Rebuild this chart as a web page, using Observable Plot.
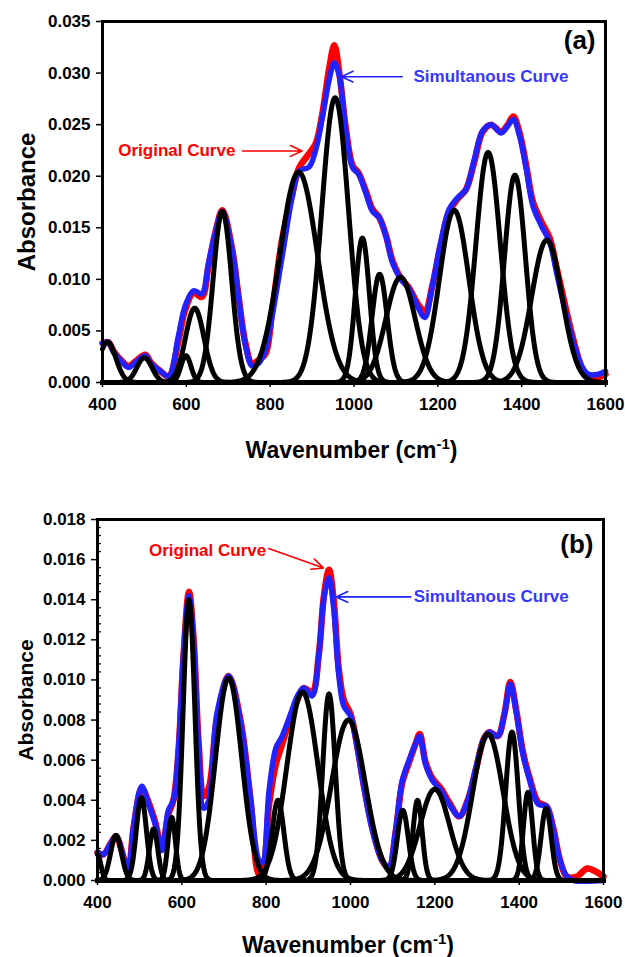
<!DOCTYPE html>
<html>
<head>
<meta charset="utf-8">
<script src="https://cdn.jsdelivr.net/npm/d3@7"></script>
<script src="https://cdn.jsdelivr.net/npm/@observablehq/plot@0.6"></script>
<style>
  html, body { margin: 0; padding: 0; background: #fff; }
  #wrap { position: relative; width: 625px; height: 957px; overflow: hidden; }
  #pa { position: absolute; left: 0; top: 0; }
  #pb { position: absolute; left: 0; top: 498px; }
</style>
</head>
<body>
<div id="wrap"><div id="pa"></div><div id="pb"></div></div>
<script>
// ---------- Panel (a) data ----------
const xTicks = [400, 600, 800, 1000, 1200, 1400, 1600];
const yTicksA = [0, 0.005, 0.010, 0.015, 0.020, 0.025, 0.030, 0.035];
const yTicksB = [0, 0.002, 0.004, 0.006, 0.008, 0.010, 0.012, 0.014, 0.016, 0.018];

// Gaussian components (center, height, width)
const compA_center = [412, 500, 599, 620, 686, 868, 955, 1020, 1061, 1111, 1239, 1320, 1384, 1460];
const compA_height = [0.0039, 0.0024, 0.0026, 0.0072, 0.0166, 0.0204, 0.0276, 0.0140, 0.0105, 0.0102, 0.0167, 0.0223, 0.0201, 0.0138];
const compA_sigma  = [20, 18, 12, 22, 22, 45, 32, 17, 18, 35, 35, 29, 25, 36];

// Simultaneous (fitted) curve, panel (a)
const blueA_wn  = [400, 414, 427, 446, 462, 480, 502, 516, 538, 558, 581, 597, 617, 637, 653, 669, 686, 709, 725, 741, 757, 773, 789, 805, 829, 853, 869, 893, 909, 925, 941, 953, 965, 981, 997, 1011, 1028, 1044, 1060, 1076, 1092, 1112, 1131, 1151, 1169, 1187, 1207, 1227, 1247, 1267, 1287, 1307, 1327, 1351, 1367, 1380, 1395, 1411, 1427, 1447, 1467, 1483, 1503, 1523, 1543, 1559, 1583, 1600];
const blueA_abs = [0.0038, 0.0039, 0.0029, 0.0020, 0.00145, 0.0020, 0.0026, 0.0018, 0.0011, 0.0006, 0.0045, 0.0074, 0.0089, 0.0086, 0.0116, 0.0145, 0.0166, 0.0129, 0.0081, 0.0036, 0.0016, 0.0019, 0.0032, 0.0065, 0.0123, 0.0181, 0.0205, 0.0209, 0.0226, 0.0258, 0.0294, 0.0310, 0.0297, 0.0242, 0.0208, 0.0202, 0.0184, 0.0166, 0.0160, 0.0142, 0.0116, 0.0100, 0.0091, 0.0074, 0.0063, 0.0094, 0.0136, 0.0168, 0.0179, 0.0187, 0.0216, 0.0244, 0.0250, 0.0242, 0.0249, 0.0255, 0.0239, 0.0207, 0.0171, 0.0152, 0.0136, 0.0107, 0.0071, 0.0039, 0.0016, 0.0008, 0.0008, 0.0011];

// Original curve, panel (a)
const redA_wn  = [400, 414, 427, 446, 462, 480, 502, 516, 538, 558, 581, 597, 617, 637, 653, 669, 686, 709, 725, 741, 757, 773, 789, 805, 829, 853, 869, 893, 909, 925, 941, 953, 965, 981, 997, 1011, 1028, 1044, 1060, 1076, 1092, 1112, 1131, 1151, 1169, 1187, 1207, 1227, 1247, 1267, 1287, 1307, 1327, 1351, 1367, 1380, 1395, 1411, 1427, 1447, 1467, 1483, 1503, 1523, 1543, 1559, 1583, 1600];
const redA_abs = [0.0038, 0.0039, 0.0030, 0.0021, 0.0016, 0.0021, 0.0027, 0.0019, 0.0011, 0.0006, 0.0040, 0.0070, 0.0087, 0.0083, 0.0113, 0.0145, 0.0167, 0.0130, 0.0082, 0.0038, 0.0018, 0.0022, 0.0028, 0.0070, 0.0140, 0.0183, 0.0208, 0.0222, 0.0232, 0.0262, 0.0305, 0.0327, 0.0300, 0.0245, 0.0210, 0.0203, 0.0186, 0.0168, 0.0160, 0.0143, 0.0118, 0.0101, 0.0092, 0.0077, 0.0069, 0.0094, 0.0134, 0.0166, 0.0178, 0.0187, 0.0214, 0.0243, 0.0250, 0.0243, 0.0250, 0.0258, 0.0242, 0.0210, 0.0175, 0.0156, 0.0140, 0.0112, 0.0076, 0.0042, 0.0015, 0.0005, 0.0005, 0.0008];

// ---------- Panel (b) data ----------
const compB_center = [400, 444, 504, 533, 576, 617, 711, 828, 886, 949, 995, 1124, 1159, 1200, 1326, 1383, 1421, 1464];
const compB_height = [0.0013, 0.00225, 0.00414, 0.00257, 0.00315, 0.0140, 0.0101, 0.0040, 0.0094, 0.0093, 0.0080, 0.0035, 0.0040, 0.00455, 0.0073, 0.0074, 0.0044, 0.0036];
const compB_sigma  = [8, 13, 12, 10, 9, 14, 31, 14, 37, 15, 40, 13, 11, 35, 36, 15, 11, 12];

const blueB_wn  = [400, 414, 430, 444, 472, 486, 505, 521, 537, 553, 568, 580, 592, 604, 617, 628, 640, 652, 664, 683, 711, 739, 763, 783, 791, 807, 823, 838, 858, 874, 889, 909, 925, 937, 949, 960, 972, 984, 1000, 1016, 1032, 1052, 1075, 1091, 1107, 1123, 1139, 1154, 1164, 1178, 1194, 1214, 1234, 1258, 1278, 1297, 1317, 1329, 1349, 1365, 1379, 1393, 1409, 1425, 1445, 1465, 1481, 1497, 1513, 1530, 1600];
const blueB_abs = [0.0014, 0.0013, 0.0018, 0.0022, 0.0006, 0.0028, 0.0047, 0.0038, 0.0028, 0.0015, 0.0035, 0.0040, 0.0066, 0.0113, 0.0142, 0.0119, 0.0066, 0.0036, 0.0040, 0.0083, 0.0102, 0.0079, 0.0041, 0.0010, 0.0009, 0.0045, 0.0066, 0.0072, 0.0083, 0.0092, 0.0096, 0.0092, 0.0113, 0.0141, 0.0151, 0.0136, 0.0103, 0.0087, 0.0082, 0.0066, 0.0046, 0.0025, 0.0010, 0.0007, 0.0025, 0.0050, 0.0060, 0.0068, 0.0072, 0.0058, 0.0050, 0.0045, 0.0038, 0.0032, 0.0040, 0.0056, 0.0071, 0.0074, 0.0072, 0.0083, 0.0098, 0.0084, 0.0063, 0.0050, 0.0038, 0.0037, 0.0025, 0.0010, 0.0002, 0.0000, 0.0000];

const redB_wn  = [400, 414, 430, 444, 472, 486, 505, 521, 537, 553, 568, 580, 592, 604, 617, 628, 640, 652, 664, 683, 711, 739, 763, 783, 791, 807, 823, 838, 858, 874, 889, 909, 925, 937, 949, 960, 972, 984, 1000, 1016, 1032, 1052, 1075, 1091, 1107, 1123, 1139, 1154, 1164, 1178, 1194, 1214, 1234, 1258, 1278, 1297, 1317, 1329, 1349, 1365, 1379, 1393, 1409, 1425, 1445, 1465, 1481, 1497, 1513, 1537, 1561, 1577, 1600];
const redB_abs = [0.0014, 0.0013, 0.0018, 0.0022, 0.0006, 0.0027, 0.0046, 0.0039, 0.0029, 0.0016, 0.0033, 0.0040, 0.0064, 0.0112, 0.0144, 0.0120, 0.0068, 0.0042, 0.0046, 0.0080, 0.0102, 0.0080, 0.0040, 0.0003, 0.0004, 0.0038, 0.0058, 0.0068, 0.0082, 0.0090, 0.0096, 0.0094, 0.0113, 0.0142, 0.0155, 0.0140, 0.0106, 0.0090, 0.0083, 0.0067, 0.0047, 0.0026, 0.0010, 0.0006, 0.0024, 0.0049, 0.0059, 0.0068, 0.0073, 0.0059, 0.0051, 0.0046, 0.0039, 0.0032, 0.0040, 0.0055, 0.0071, 0.0074, 0.0072, 0.0083, 0.0099, 0.0085, 0.0064, 0.0051, 0.0039, 0.0037, 0.0026, 0.0010, 0.0002, 0.0002, 0.0006, 0.0005, 0.0002];

// Annotations
const labelA = {panel: "(a)", origText: "Original Curve", origX: 717, origY: 0.02245, origArrow: [734, 0.02245, 876, 0.02245],
  simText: "Simultanous Curve", simX: 1142, simY: 0.02965, simArrow: [1115, 0.02965, 970, 0.02965]};
const labelB = {panel: "(b)", origText: "Original Curve", origX: 800, origY: 0.01646, origArrow: [806, 0.01655, 936, 0.01558],
  simText: "Simultanous Curve", simX: 1150, simY: 0.01414, simArrow: [1143, 0.01414, 966, 0.01414]};

// ---------- helpers ----------
const toTable = (xs, ys) => xs.map((w, i) => ({wn: w, abs: ys[i]}));
function gaussTable(centers, heights, sigmas) {
  const rows = [];
  centers.forEach((c, k) => {
    for (let w = 400; w <= 1600; w += 1) {
      rows.push({k, wn: w, abs: heights[k] * Math.exp(-((w - c) ** 2) / (2 * sigmas[k] ** 2))});
    }
  });
  return rows;
}

const FONT = "'Liberation Sans', Arial, Helvetica, sans-serif";
const RED = "#ff0000", BLUE = "#2222ff", BLUE_TXT = "#3636ff";

function panel({yMax, yTicks, minor, comps, blue, red, lab, marginLeft, marginRight, height, titleY, yLabelSize, yLabelDx, panelDy}) {
  const marks = [
    Plot.line(red, {x: "wn", y: "abs", stroke: RED, strokeWidth: 6.5, curve: "catmull-rom"}),
    Plot.line(blue, {x: "wn", y: "abs", stroke: BLUE, strokeWidth: 5.5, curve: "catmull-rom"}),
    Plot.line(comps, {x: "wn", y: "abs", z: "k", stroke: "black", strokeWidth: 5}),
    Plot.frame({stroke: "black", strokeWidth: 3}),
    Plot.axisX({ticks: xTicks, tickFormat: d => String(d), tickSize: 5, tickPadding: 10, fontSize: 17, fontWeight: "bold", label: null, strokeWidth: 1.5}),
    Plot.axisY({ticks: yTicks, tickFormat: d3.format(".3f"), tickSize: 6, tickPadding: 6, fontSize: 17, fontWeight: "bold", label: null, strokeWidth: 1.5}),
    Plot.text([lab.panel], {frameAnchor: "top-right", dx: -10, dy: panelDy, fontSize: 26, fontWeight: "bold", fill: "black"}),
    Plot.text([lab.origText], {x: lab.origX, y: lab.origY, textAnchor: "end", fontSize: 17, fontWeight: "bold", fill: RED}),
    Plot.arrow([lab.origArrow], {x1: d => d[0], y1: d => d[1], x2: d => d[2], y2: d => d[3], stroke: RED, strokeWidth: 1.6, headLength: 12, headAngle: 50}),
    Plot.text([lab.simText], {x: lab.simX, y: lab.simY, textAnchor: "start", fontSize: 17, fontWeight: "bold", fill: BLUE_TXT}),
    Plot.arrow([lab.simArrow], {x1: d => d[0], y1: d => d[1], x2: d => d[2], y2: d => d[3], stroke: BLUE, strokeWidth: 1.6, headLength: 12, headAngle: 50}),
    Plot.text(["Absorbance"], {frameAnchor: "left", textAnchor: "middle", rotate: -90, dx: yLabelDx, fontSize: yLabelSize, fontWeight: "bold", fill: "black"})
  ];
  if (minor) marks.push(Plot.ruleY(minor, {x1: 400, x2: 409, stroke: "black", strokeWidth: 1.3}));
  const svg = Plot.plot({
    width: 625, height, marginLeft, marginRight, marginTop: 21, marginBottom: height - 21 - 361,
    x: {domain: [400, 1600]},
    y: {domain: [0, yMax]},
    style: {fontFamily: FONT, fontWeight: "bold", fontSize: "17px", background: "white", color: "black", overflow: "visible"},
    marks
  });
  // x-axis title with superscript
  const left = marginLeft, right = 625 - marginRight;
  const t = d3.select(svg).append("text")
    .attr("x", (left + right) / 2 - 2).attr("y", titleY)
    .attr("text-anchor", "middle")
    .style("font-family", FONT).style("font-weight", "bold").style("font-size", "23px").attr("fill", "black");
  t.append("tspan").text("Wavenumber (cm");
  t.append("tspan").text("-1").attr("dy", -9).style("font-size", "15px");
  t.append("tspan").text(")").attr("dy", 9);
  return svg;
}

const minorB = d3.range(0, 0.01801, 0.0004).filter(v => Math.abs(v / 0.002 - Math.round(v / 0.002)) > 1e-6);

document.getElementById("pa").appendChild(panel({
  yMax: 0.035, yTicks: yTicksA, minor: null,
  comps: gaussTable(compA_center, compA_height, compA_sigma),
  blue: toTable(blueA_wn, blueA_abs), red: toTable(redA_wn, redA_abs), lab: labelA,
  marginLeft: 102, marginRight: 20, height: 470, titleY: 458, yLabelSize: 24, yLabelDx: -75, panelDy: 9
}));
document.getElementById("pb").appendChild(panel({
  yMax: 0.018, yTicks: yTicksB, minor: minorB,
  comps: gaussTable(compB_center, compB_height, compB_sigma),
  blue: toTable(blueB_wn, blueB_abs), red: toTable(redB_wn, redB_abs), lab: labelB,
  marginLeft: 97, marginRight: 22, height: 459, titleY: 455, yLabelSize: 21, yLabelDx: -71, panelDy: 15
}));
</script>
</body>
</html>
